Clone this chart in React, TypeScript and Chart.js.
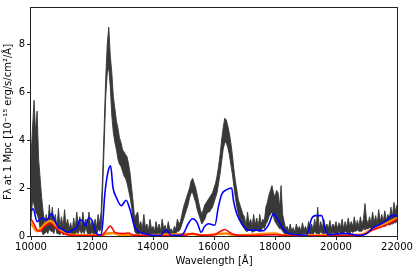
import { useEffect, useRef } from 'react';
import { Chart, registerables } from 'chart.js';

Chart.register(...registerables);

// Wavelength grid of the observed spectrum [Å]
const WAVELENGTH = [
  10000, 10050, 10100, 10150, 10200, 10250, 10300, 10350, 10400, 10450,
  10500, 10550, 10600, 10650, 10700, 10750, 10800, 10850, 10900, 10950,
  11000, 11050, 11100, 11150, 11200, 11250, 11300, 11350, 11400, 11450,
  11500, 11550, 11600, 11650, 11700, 11750, 11800, 11850, 11900, 11950,
  12000, 12050, 12100, 12150, 12200, 12250, 12300, 12350, 12400, 12450,
  12500, 12550, 12600, 12650, 12700, 12750, 12800, 12850, 12900, 12950,
  13000, 13050, 13100, 13150, 13200, 13250, 13300, 13350, 13400, 13450,
  13500, 13550, 13600, 13650, 13700, 13750, 13800, 13850, 13900, 13950,
  14000, 14050, 14100, 14150, 14200, 14250, 14300, 14350, 14400, 14450,
  14500, 14550, 14600, 14650, 14700, 14750, 14800, 14850, 14900, 14950,
  15000, 15050, 15100, 15150, 15200, 15250, 15300, 15350, 15400, 15450,
  15500, 15550, 15600, 15650, 15700, 15750, 15800, 15850, 15900, 15950,
  16000, 16050, 16100, 16150, 16200, 16250, 16300, 16350, 16400, 16450,
  16500, 16550, 16600, 16650, 16700, 16750, 16800, 16850, 16900, 16950,
  17000, 17050, 17100, 17150, 17200, 17250, 17300, 17350, 17400, 17450,
  17500, 17550, 17600, 17650, 17700, 17750, 17800, 17850, 17900, 17950,
  18000, 18050, 18100, 18150, 18200, 18250, 18300, 18350, 18400, 18450,
  18500, 18550, 18600, 18650, 18700, 18750, 18800, 18850, 18900, 18950,
  19000, 19050, 19100, 19150, 19200, 19250, 19300, 19350, 19400, 19450,
  19500, 19550, 19600, 19650, 19700, 19750, 19800, 19850, 19900, 19950,
  20000, 20050, 20100, 20150, 20200, 20250, 20300, 20350, 20400, 20450,
  20500, 20550, 20600, 20650, 20700, 20750, 20800, 20850, 20900, 20950,
  21000, 21050, 21100, 21150, 21200, 21250, 21300, 21350, 21400, 21450,
  21500, 21550, 21600, 21650, 21700, 21750, 21800, 21850, 21900, 21950,
  22000,
];

// Observed spectrum: upper and lower extent of the noisy trace
const FLUX_HI = [
  3.3, 4.5, 5.65, 4.3, 5.2, 3.2, 2.4, 1.6, 1.0, 0.5,
  0.9, 0.4, 1.3, 0.6, 1.2, 0.5, 0.9, 0.3, 1.15, 0.4,
  0.8, 0.35, 1.1, 0.4, 0.7, 0.3, 0.55, 0.2, 0.75, 0.3,
  1.0, 0.4, 0.8, 0.3, 1.0, 0.45, 0.7, 0.35, 1.0, 0.4,
  0.6, 0.3, 0.7, 0.35, 0.9, 0.5, 1.0, 2.6, 4.6, 6.6,
  8.0, 8.7, 7.5, 6.8, 5.8, 5.3, 4.8, 4.5, 4.1, 3.9,
  3.6, 3.5, 3.4, 3.3, 3.0, 2.6, 2.0, 1.4, 0.7, 0.9,
  1.0, 0.4, 0.6, 0.3, 0.9, 0.35, 0.5, 0.2, 0.7, 0.3,
  0.4, 0.2, 0.6, 0.25, 0.5, 0.2, 0.7, 0.3, 0.45, 0.2,
  0.6, 0.25, 0.3, 0.15, 0.4, 0.3, 0.7, 0.5, 0.6, 0.9,
  1.2, 1.4, 1.6, 1.8, 2.0, 2.3, 2.4, 2.2, 2.0, 1.7,
  1.4, 1.1, 0.9, 1.1, 1.3, 1.4, 1.5, 1.6, 1.7, 1.8,
  2.0, 2.2, 2.5, 2.9, 3.4, 4.0, 4.5, 4.9, 4.85, 4.6,
  4.3, 3.9, 3.4, 2.8, 2.3, 1.9, 1.5, 1.3, 1.1, 0.9,
  0.8, 0.4, 1.0, 0.5, 0.7, 0.4, 0.9, 0.45, 0.75, 0.4,
  0.9, 0.5, 0.7, 0.6, 1.2, 1.4, 1.7, 1.9, 2.1, 1.8,
  1.6, 1.9, 1.8, 1.2, 2.1, 0.9, 0.6, 0.3, 0.4, 0.2,
  0.5, 0.2, 0.35, 0.15, 0.5, 0.25, 0.4, 0.2, 0.55, 0.25,
  0.4, 0.2, 0.6, 0.3, 0.5, 0.25, 0.7, 0.35, 1.2, 0.3,
  0.6, 0.3, 0.7, 0.35, 0.5, 0.3, 0.65, 0.3, 0.5, 0.35,
  0.6, 0.3, 0.55, 0.35, 0.7, 0.3, 0.6, 0.35, 0.75, 0.4,
  0.6, 0.4, 0.8, 0.4, 0.65, 0.4, 0.8, 0.45, 0.7, 1.35,
  0.7, 0.5, 0.8, 0.5, 1.0, 0.55, 0.85, 0.5, 1.1, 0.6,
  0.9, 0.6, 1.05, 0.65, 0.9, 0.7, 1.2, 0.8, 1.4, 1.0,
  1.3,
];
const FLUX_LO = [
  0.6, 1.5, 1.3, 1.0, 0.9, 0.7, 0.3, 0.2, 0.05, 0.1,
  0.2, 0.1, 0.3, 0.2, 0.2, 0.1, 0.4, 0.1, 0.1, 0.05,
  0.2, 0.05, 0.1, 0.05, 0.05, 0.0, 0.1, 0.0, 0.05, 0.05,
  0.2, 0.1, 0.3, 0.1, 0.2, 0.1, 0.4, 0.1, 0.1, 0.05,
  0.2, 0.05, 0.1, 0.05, 0.3, 0.2, 0.3, 2.0, 3.8, 5.8,
  6.8, 7.0, 6.2, 5.0, 4.3, 3.9, 3.6, 3.2, 3.0, 2.9,
  2.7, 2.5, 2.4, 2.2, 1.9, 1.6, 1.2, 0.6, 0.2, 0.1,
  0.1, 0.05, 0.2, 0.0, 0.05, 0.0, 0.1, 0.0, 0.05, 0.0,
  0.1, 0.0, 0.05, 0.0, 0.0, 0.0, 0.1, 0.0, 0.05, 0.0,
  0.1, 0.0, 0.0, 0.0, 0.05, 0.1, 0.2, 0.2, 0.3, 0.5,
  0.7, 0.9, 1.1, 1.3, 1.6, 1.8, 1.8, 1.6, 1.4, 1.1,
  0.9, 0.7, 0.5, 0.6, 0.7, 0.9, 1.0, 1.0, 1.1, 1.2,
  1.4, 1.6, 1.8, 2.2, 2.6, 3.1, 3.6, 3.9, 3.9, 3.7,
  3.4, 3.0, 2.6, 2.1, 1.6, 1.2, 0.9, 0.7, 0.5, 0.4,
  0.3, 0.2, 0.2, 0.25, 0.3, 0.15, 0.2, 0.2, 0.3, 0.2,
  0.2, 0.2, 0.4, 0.3, 0.5, 0.6, 0.8, 0.9, 1.0, 0.8,
  0.6, 0.5, 0.4, 0.3, 0.3, 0.2, 0.1, 0.05, 0.05, 0.0,
  0.1, 0.0, 0.05, 0.0, 0.1, 0.05, 0.05, 0.0, 0.1, 0.05,
  0.1, 0.05, 0.15, 0.05, 0.1, 0.05, 0.2, 0.1, 0.1, 0.05,
  0.2, 0.1, 0.1, 0.1, 0.15, 0.05, 0.1, 0.05, 0.15, 0.1,
  0.1, 0.1, 0.2, 0.1, 0.1, 0.1, 0.2, 0.15, 0.15, 0.1,
  0.2, 0.15, 0.2, 0.2, 0.25, 0.2, 0.2, 0.2, 0.3, 0.25,
  0.3, 0.3, 0.35, 0.3, 0.3, 0.35, 0.4, 0.35, 0.35, 0.4,
  0.45, 0.4, 0.4, 0.45, 0.5, 0.45, 0.5, 0.5, 0.55, 0.55,
  0.6,
];

// Blue model
const BLUE_X = [
  10000, 10070, 10200, 10300, 10400, 10500, 10670, 10800, 10900, 11000,
  11200, 11350, 11500, 11600, 11700, 11780, 11900, 12000, 12100, 12200,
  12300, 12350, 12420, 12525, 12610, 12690, 12800, 12960, 13120, 13240,
  13400, 13510, 13700, 14000, 14250, 14430, 14600, 14900, 15000, 15150,
  15300, 15450, 15580, 15680, 15820, 16030, 16140, 16250, 16420, 16580,
  16640, 16750, 16910, 17130, 17300, 17620, 17800, 17950, 18110, 18270,
  18440, 18820, 19040, 19200, 19320, 19530, 19640, 19750, 20130, 20350,
  20790, 21000, 21220, 21440, 21660, 21830, 22000,
];
const BLUE_Y = [
  1.05, 1.13, 0.6, 0.7, 0.75, 0.65, 0.92, 0.6, 0.35, 0.3,
  0.15, 0.25, 0.35, 0.68, 0.6, 0.42, 0.76, 0.65, 0.25, 0.05,
  0.05, 0.5, 1.73, 2.67, 2.92, 2.0, 1.6, 1.26, 1.49, 1.12,
  0.38, 0.2, 0.1, 0.03, 0.03, 0.25, 0.03, 0.03, 0.1, 0.5,
  0.72, 0.55, 0.15, 0.38, 0.51, 0.45, 1.19, 1.73, 1.93, 2.0,
  1.46, 0.92, 0.51, 0.24, 0.25, 0.22, 0.5, 0.92, 0.65, 0.3,
  0.1, 0.05, 0.03, 0.72, 0.85, 0.85, 0.3, 0.05, 0.1, 0.1,
  0.02, 0.1, 0.35, 0.48, 0.65, 0.85, 0.85,
];

// Red model
const RED_X = [
  10000, 10100, 10200, 10300, 10450, 10650, 10800, 11000, 11200, 11500,
  12300, 12450, 12600, 12750, 13000, 13200, 13350, 14000, 15000, 15300,
  15600, 16000, 16350, 16600, 17000, 18000, 18500, 20000, 20900, 21200,
  21500, 21800, 22000,
];
const RED_Y = [
  0.7, 0.5, 0.25, 0.2, 0.4, 0.52, 0.35, 0.15, 0.05, 0.02,
  0.02, 0.2, 0.42, 0.15, 0.1, 0.12, 0.04, 0.01, 0.02, 0.1,
  0.03, 0.05, 0.27, 0.08, 0.02, 0.05, 0.02, 0.01, 0.05, 0.25,
  0.38, 0.55, 0.7,
];

// Orange model
const ORANGE_X = [
  10000, 10200, 10350, 10500, 10650, 10800, 11000, 11300, 12300, 12500,
  12700, 12900, 13500, 15300, 15600, 16400, 16700, 18000, 18300, 20800,
  21200, 21500, 21800, 22000,
];
const ORANGE_Y = [
  0.55, 0.2, 0.35, 0.55, 0.62, 0.45, 0.2, 0.05, 0.02, 0.1,
  0.12, 0.05, 0.02, 0.08, 0.02, 0.1, 0.02, 0.1, 0.02, 0.05,
  0.3, 0.45, 0.62, 0.75,
];

const X_TICKS = [10000, 12000, 14000, 16000, 18000, 20000, 22000];
const Y_TICKS = [0, 2, 4, 6, 8];

const pts = (xs: number[], ys: number[]) => xs.map((x, i) => ({ x, y: ys[i] }));

const framePlugin = {
  id: 'frame',
  afterDraw(chart: any) {
    const { ctx, chartArea: a } = chart;
    ctx.save();
    ctx.strokeStyle = '#222';
    ctx.lineWidth = 1;
    ctx.strokeRect(Math.round(a.left) - 0.5, Math.round(a.top) - 0.5, Math.round(a.right - a.left) + 1, Math.round(a.bottom - a.top) + 1);
    ctx.restore();
  },
};

export default function App() {
  const ref = useRef<HTMLCanvasElement>(null);
  useEffect(() => {
    document.body.style.margin = '0';
    Chart.defaults.font.family = '"DejaVu Sans", sans-serif';
    const GRAY = '#383838';
    const chart = new Chart(ref.current!, {
      type: 'line',
      data: {
        datasets: [
          {
            label: 'blue',
            data: pts(BLUE_X, BLUE_Y),
            borderColor: '#0000ff',
            borderWidth: 1.6,
            pointRadius: 0,
            cubicInterpolationMode: 'monotone',
          },
          {
            label: 'red',
            data: pts(RED_X, RED_Y),
            borderColor: '#ff0000',
            borderWidth: 1.5,
            pointRadius: 0,
            cubicInterpolationMode: 'monotone',
          },
          {
            label: 'orange',
            data: pts(ORANGE_X, ORANGE_Y),
            borderColor: '#ff8c00',
            borderWidth: 2.5,
            pointRadius: 0,
            cubicInterpolationMode: 'monotone',
          },
          {
            label: 'spectrum upper',
            data: pts(WAVELENGTH, FLUX_HI),
            borderColor: GRAY,
            borderWidth: 0.9,
            pointRadius: 0,
            fill: false,
          },
          {
            label: 'spectrum lower',
            data: pts(WAVELENGTH, FLUX_LO),
            borderColor: GRAY,
            backgroundColor: GRAY,
            borderWidth: 0.9,
            pointRadius: 0,
            fill: 3,
          },
        ] as any,
      },
      options: {
        animation: false,
        responsive: false,
        layout: { padding: { top: 2, right: 18, left: 0, bottom: 0 } },
        plugins: { legend: { display: false }, tooltip: { enabled: false } },
        scales: {
          x: {
            type: 'linear',
            min: 10000,
            max: 22000,
            afterBuildTicks: (s: any) => { s.ticks = X_TICKS.map((v) => ({ value: v })); },
            afterFit: (s: any) => { s.height = 34; },
            ticks: { callback: (v: any) => String(v), color: '#000', font: { size: 10 }, padding: 1, maxRotation: 0, autoSkip: false },
            grid: { drawOnChartArea: false, drawTicks: true, tickLength: 4, color: '#222' },
            border: { display: false },
            title: { display: true, text: 'Wavelength [Å]', color: '#000', font: { size: 10 }, padding: { top: 0, bottom: 3 } },
          },
          y: {
            type: 'linear',
            min: 0,
            max: 9.5,
            afterBuildTicks: (s: any) => { s.ticks = Y_TICKS.map((v) => ({ value: v })); },
            afterFit: (s: any) => { s.width = 31; },
            ticks: { callback: (v: any) => String(v), color: '#000', font: { size: 10 }, padding: 2 },
            grid: { drawOnChartArea: false, drawTicks: true, tickLength: 4, color: '#222' },
            border: { display: false },
            title: { display: true, text: 'Fλ at 1 Mpc [10⁻¹⁵ erg/s/cm²/Å]', color: '#000', font: { size: 10 }, padding: { top: 2, bottom: 0 } },
          },
        },
      } as any,
      plugins: [framePlugin],
    });
    return () => chart.destroy();
  }, []);
  return (
    <div style={{ width: 415, height: 270 }}>
      <canvas ref={ref} width={415} height={270} />
    </div>
  );
}
